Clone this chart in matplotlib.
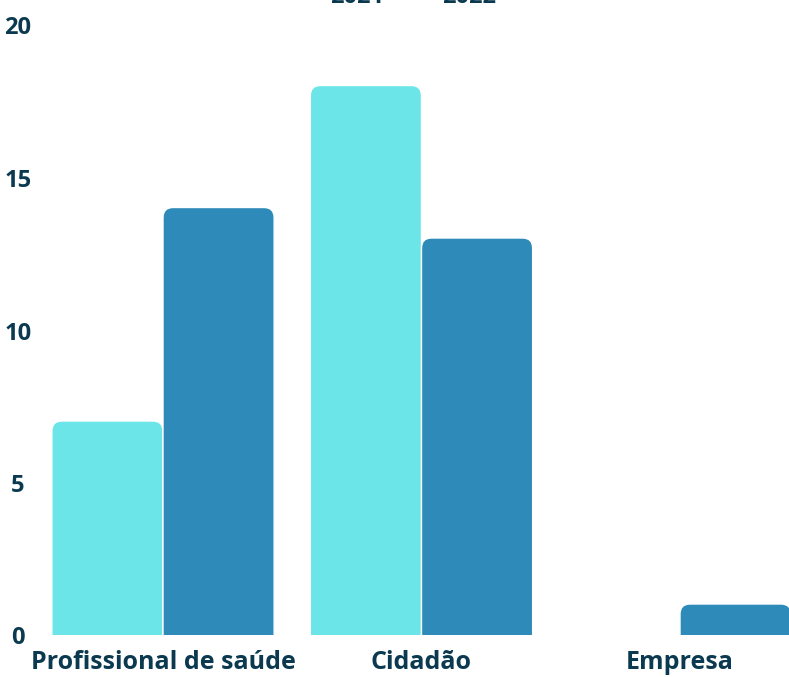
import matplotlib
matplotlib.use("Agg")
import matplotlib.pyplot as plt
from matplotlib.patches import FancyBboxPatch

categories = ["Profissional de saúde", "Cidadão", "Empresa"]
series_names = ["2021", "2022"]
values_2021 = [7, 18, 0]
values_2022 = [14, 13, 1]
yticks = [0, 5, 10, 15, 20]

c2021 = "#6be5e8"
c2022 = "#2e8ab8"
txt = "#0b3a50"
font = ["Open Sans", "DejaVu Sans"]

W, H = 789, 677
fig = plt.figure(figsize=(W / 100, H / 100), dpi=100)
x_px_per = 258.5
x0 = 163
y0_px = 634.5
y_px_per = 30.5
xlim = (-x0 / x_px_per, (W - x0) / x_px_per)
bottom_frac = (H - y0_px) / H
top_px = 20
ylim = (0, (y0_px - top_px) / y_px_per)
ax = fig.add_axes([0, bottom_frac, 1, (y0_px - top_px) / H])
ax.set_xlim(*xlim)
ax.set_ylim(*ylim)
ax.axis("off")

bw = 0.43
xs = list(range(len(categories)))
bars1 = ax.bar([x - bw / 2 for x in xs], values_2021, width=bw, color=c2021)
bars2 = ax.bar([x + bw / 2 for x in xs], values_2022, width=bw, color=c2022)

r_px = 10
rs = r_px / x_px_per
aspect = x_px_per / y_px_per
for bars, col in ((bars1, c2021), (bars2, c2022)):
    for b in bars:
        b.set_visible(False)
        h = b.get_height()
        if h <= 0:
            continue
        ext = 1.0
        p = FancyBboxPatch((b.get_x(), -ext), b.get_width(), h + ext,
                           boxstyle=f"round,pad=0,rounding_size={rs}",
                           mutation_aspect=aspect, facecolor=col,
                           edgecolor="white", linewidth=1.0, clip_on=True)
        ax.add_patch(p)

# y tick labels
for v in yticks:
    ypx = y0_px - v * y_px_per + 10
    fig.text(18 / W, 1 - ypx / H, str(v), ha="center", va="baseline",
             fontsize=17, fontweight="bold", color=txt, family=font)

# category labels
for i, c in enumerate(categories):
    fig.text((x0 + i * x_px_per) / W, 1 - 669 / H, c, ha="center", va="baseline",
             fontsize=18, fontweight="bold", color=txt, family=font)

# legend (cut off at top)
for xpx, s in zip([357, 469], series_names):
    fig.text(xpx / W, 1 - 3 / H, s, ha="center", va="baseline",
             fontsize=17, fontweight="bold", color=txt, family=font)

fig.savefig("out.png", dpi=100)
